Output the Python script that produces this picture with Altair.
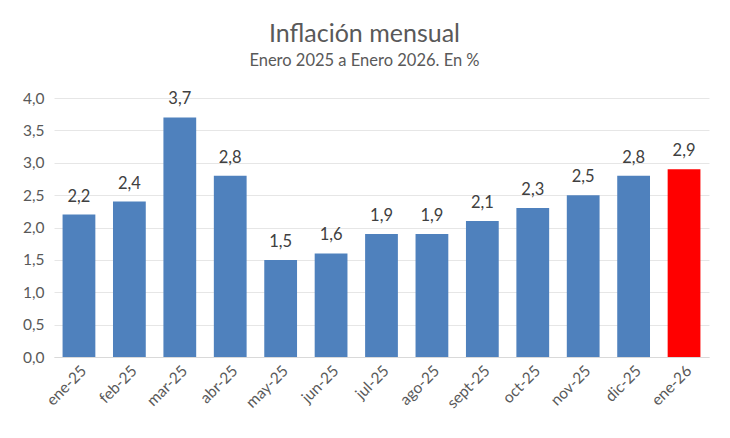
import altair as alt
import pandas as pd

months = ["ene-25", "feb-25", "mar-25", "abr-25", "may-25", "jun-25", "jul-25",
          "ago-25", "sept-25", "oct-25", "nov-25", "dic-25", "ene-26"]
values = [2.2, 2.4, 3.7, 2.8, 1.5, 1.6, 1.9, 1.9, 2.1, 2.3, 2.5, 2.8, 2.9]
colors = ["#4f81bd"] * 12 + ["#ff0000"]
y_ticks = [0, 0.5, 1, 1.5, 2, 2.5, 3, 3.5, 4]

df = pd.DataFrame({"mes": months, "valor": values, "color": colors})
df["label"] = [f"{v:.1f}".replace(".", ",") for v in values]

FONT = "Lato"

x = alt.X("mes:N", sort=months, title=None,
          scale=alt.Scale(paddingInner=0.35, paddingOuter=0.17),
          axis=alt.Axis(labelAngle=-45, labelFontSize=15.5, labelColor="#595959",
                        labelFont=FONT, ticks=False, domainColor="#d9d9d9",
                        grid=False, labelOverlap=False,
                        labelPadding=6, labelAlign="right", labelBaseline="top"))
y = alt.Y("valor:Q", title=None,
          scale=alt.Scale(domain=[0, 4]),
          axis=alt.Axis(values=y_ticks,
                        labelExpr="replace(format(datum.value, '.1f'), '.', ',')",
                        labelFontSize=15.5, labelColor="#595959", labelFont=FONT,
                        labelOverlap=False,
                        ticks=False, domain=False, gridColor="#e6e6e6",
                        labelPadding=10))

base = alt.Chart(df).encode(x=x, y=y)
bars = base.mark_bar().encode(color=alt.Color("color:N", scale=None))
text = base.mark_text(dy=-18, fontSize=16.5, color="#404040", font=FONT).encode(
    text="label:N")

chart = (bars + text).properties(
    width=655, height=259,
    background="white",
    autosize=alt.AutoSizeParams(type="none"),
    padding={"left": 46, "top": 90, "right": 13, "bottom": 73},
    title=alt.TitleParams(
        "Inflación mensual",
        subtitle="Enero 2025 a Enero 2026. En %",
        fontSize=25, font=FONT, color="#595959", fontWeight="normal",
        subtitleFontSize=16.5, subtitleFont=FONT, subtitleColor="#595959",
        subtitlePadding=6, anchor="middle", dx=-17, offset=22),
).configure_view(strokeWidth=0, stroke="transparent")

chart.save("out.html", embed_options={"renderer": "svg", "actions": False})
